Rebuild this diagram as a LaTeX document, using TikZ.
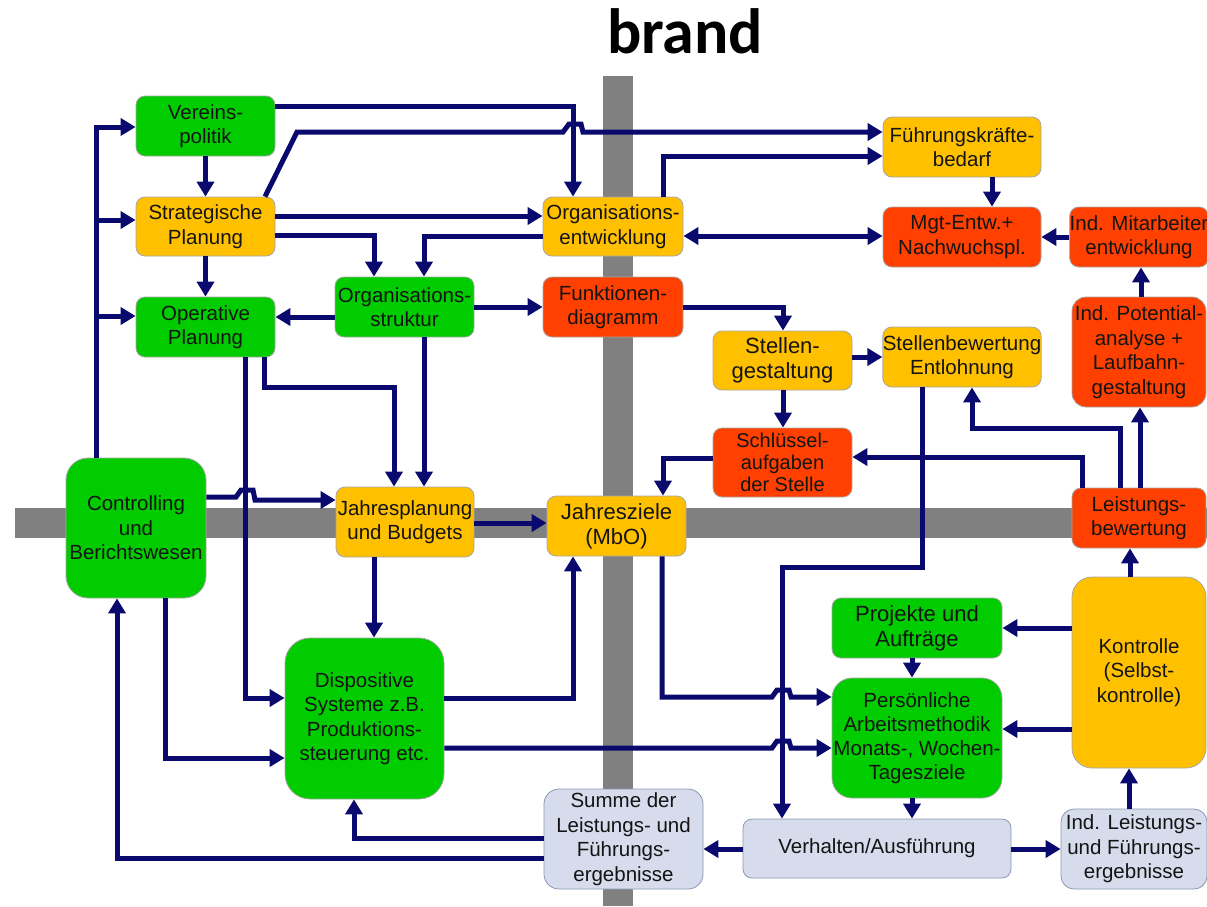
\documentclass[tikz,border=0pt]{standalone}
\usepackage{fontspec}
\setmainfont{Liberation Sans}
\newfontfamily\titlefont{Carlito}
\usetikzlibrary{arrows.meta,calc}

\definecolor{navy}{RGB}{10,10,110}
\definecolor{boxgreen}{RGB}{0,204,0}
\definecolor{boxorange}{RGB}{255,192,0}
\definecolor{boxred}{RGB}{255,64,0}
\definecolor{boxpale}{RGB}{214,220,236}
\definecolor{paleedge}{RGB}{140,150,178}
\definecolor{barcol}{RGB}{128,128,128}

\tikzset{
  >={Triangle[length=15pt,width=17pt]},
  box/.style={draw=black!35, line width=0.8pt, rounded corners=9pt, align=center,
    inner sep=0pt, text=black!92, font=\fontsize{20.5}{24.5}\selectfont},
  bigtext/.style={font=\fontsize{22}{25}\selectfont},
  greenbox/.style={box, fill=boxgreen},
  orangebox/.style={box, fill=boxorange},
  redbox/.style={box, fill=boxred},
  palebox/.style={box, fill=boxpale, draw=paleedge},
  conn/.style={draw=navy, line width=5pt, ->},
  sz/.style 2 args={minimum width=#1pt, minimum height=#2pt},
}

\begin{document}
\begin{tikzpicture}[x=1pt, y=-1pt]
\useasboundingbox (0,0) rectangle (1207,906);

% axis bars
\fill[barcol] (603,76) rectangle (633,906);
\fill[barcol] (15,508) rectangle (1207,538);

% title
\node[anchor=base, inner sep=0pt] (title) at (685,53)
  {\titlefont\bfseries\fontsize{64}{64}\selectfont brand};

% planning column
\node[greenbox, sz={139}{60}] (vp) at (205.5,126) {Vereins-\\politik};
\node[orangebox, sz={139}{59}] (sp) at (205.5,226.5) {Strategische\\Planung};
\node[greenbox, sz={139}{60}] (op) at (205.5,327) {Operative\\Planung};
\node[greenbox, sz={139}{60}] (os) at (404.5,307) {Organisations-\\struktur};
\node[orangebox, sz={140}{59}] (oe) at (613,226.5) {Organisations-\\entwicklung};
\node[redbox, sz={140}{60}] (fd) at (613,307) {Funktionen-\\diagramm};
\node[orangebox, bigtext, sz={139}{59}] (sg) at (782.5,360.5) {Stellen-\\gestaltung};
\node[orangebox, sz={158}{60}] (sb) at (962,357) {Stellenbewertung\\Entlohnung};
\node[redbox, sz={139}{69}, font=\fontsize{20}{21.7}\selectfont] (sa) at (782.5,462.5) {Schlüssel-\\aufgaben\\der Stelle};
\node[orangebox, sz={158}{60}] (fk) at (962,147) {Führungskräfte-\\bedarf};
\node[redbox, sz={158}{60}] (mg) at (962,237) {Mgt-Entw.+\\Nachwuchspl.};
\node[redbox, sz={134}{60}] (im) at (1139,237) {Ind. Mitarbeiter\\entwicklung};
\node[redbox, sz={134}{110}, rounded corners=14pt] (ip) at (1139,352) {Ind. Potential-\\analyse +\\Laufbahn-\\gestaltung};
\node[redbox, sz={134}{60}] (lb) at (1139,518) {Leistungs-\\bewertung};
\node[orangebox, sz={134}{191}, rounded corners=20pt] (ko) at (1139,672.5) {Kontrolle\\(Selbst-\\kontrolle)};

% operative row
\node[greenbox, sz={140}{140}, rounded corners=22pt] (cb) at (136,528) {Controlling\\und\\Berichtswesen};
\node[orangebox, sz={138}{70}] (jp) at (405,522) {Jahresplanung\\und Budgets};
\node[orangebox, bigtext, sz={139}{60}] (jz) at (616.5,526) {Jahresziele\\(MbO)};
\node[greenbox, sz={159}{161}, rounded corners=25pt] (ds) at (364.5,718.5) {Dispositive\\Systeme z.B.\\Produktions-\\steuerung etc.};
\node[greenbox, bigtext, sz={170}{60}] (pa) at (917,628) {Projekte und\\Aufträge};
\node[greenbox, sz={170}{120}, rounded corners=20pt, font=\fontsize{20.5}{24}\selectfont] (pm) at (917,738) {Persönliche\\Arbeitsmethodik\\Monats-, Wochen-\\Tagesziele};
\node[palebox, sz={268}{59}] (va) at (877,848.5) {Verhalten/Ausführung};
\node[palebox, sz={159}{100}, rounded corners=15pt] (su) at (623.5,839) {Summe der\\Leistungs- und\\Führungs-\\ergebnisse};
\node[palebox, sz={146}{80}, rounded corners=13pt] (il) at (1134,849) {Ind. Leistungs-\\und Führungs-\\ergebnisse};

% branch points of the feedback trunk
\coordinate (t1) at (96,220);
\coordinate (t2) at (96,316);

% feedback trunk from controlling
\draw[conn] (cb.north -| 96,0) |- (vp.west |- 0,127);
\draw[conn] (t1) -- (sp.west |- t1);
\draw[conn] (t2) -- (op.west |- t2);

% strategic layer
\draw[conn] (vp.south) -- (sp.north);
\draw[conn] (sp.south) -- (op.north);
\draw[conn] (vp.east |- 0,106) -| (oe.north -| 573,0);
\draw[conn] (sp.north -| 265,0) -- (297,132) -- (563,132) -- (569,124) -- (581,124) -- (583,132)
  -- (fk.west |- 0,132);
\draw[conn] (sp.east |- 0,216) -- (oe.west |- 0,216);
\draw[conn] (sp.east |- 0,235) -| (os.north -| 374,0);
\draw[conn] (oe.west |- 0,236) -| (os.north -| 424,0);
\draw[conn] (oe.north -| 663,0) |- (fk.west |- 0,156);
\draw[conn, <->] (oe.east |- 0,236) -- (mg.west |- 0,236);
\draw[conn] (fk.south -| 992,0) -- (mg.north -| 992,0);
\draw[conn] (im.west |- 0,237) -- (mg.east |- 0,237);
\draw[conn] (ip.north -| 1141,0) -- (im.south -| 1141,0);

% structure and positions
\draw[conn] (os.west |- 0,317) -- (op.east |- 0,317);
\draw[conn] (os.east |- 0,307) -- (fd.west |- 0,307);
\draw[conn] (fd.east |- 0,307) -| (sg.north -| 783,0);
\draw[conn] (sg.east |- 0,357) -- (sb.west |- 0,357);
\draw[conn] (sg.south -| 783,0) -- (sa.north -| 783,0);
\draw[conn] (sa.west |- 0,458) -| (jz.north -| 663,0);
\draw[conn] (lb.north -| 1082,0) |- (sa.east |- 0,457);
\draw[conn] (lb.north -| 1120,0) |- (972,428) -- (sb.south -| 972,0);
\draw[conn] (lb.north -| 1140,0) -- (ip.south -| 1140,0);

% control loop
\draw[conn] (ko.north -| 1130,0) -- (lb.south -| 1130,0);
\draw[conn] (ko.west |- 0,628) -- (pa.east |- 0,628);
\draw[conn] (ko.west |- 0,729) -- (pm.east |- 0,729);
\draw[conn] (il.north -| 1129,0) -- (ko.south -| 1129,0);
\draw[conn] (pa.south -| 912,0) -- (pm.north -| 912,0);
\draw[conn] (pm.south -| 912,0) -- (va.north -| 912,0);
\draw[conn] (va.west |- 0,849) -- (su.east |- 0,849);
\draw[conn] (va.east |- 0,849) -- (il.west |- 0,849);
\draw[conn] (su.west |- 0,838) -| (ds.south -| 354,0);
\draw[conn] (su.west |- 0,858) -| (cb.south -| 117,0);

% operative planning
\draw[conn] (cb.south -| 165,0) |- (ds.west |- 0,758);
\draw[conn] (op.south -| 245,0) |- (ds.west |- 0,698);
\draw[conn] (op.south -| 264,0) |- (394,387) -- (jp.north -| 394,0);
\draw[conn] (os.south -| 424,0) -- (jp.north -| 424,0);
\draw[conn] (cb.east |- 0,497) -- (236,497) -- (241,490) -- (253,490) -- (255,500)
  -- (jp.west |- 0,500);
\draw[conn] (jp.east |- 0,523) -- (jz.west |- 0,523);
\draw[conn] (jp.south -| 374,0) -- (ds.north -| 374,0);
\draw[conn] (ds.east |- 0,698) -| (jz.south -| 573,0);
\draw[conn] (jz.south -| 662,0) |- (772,697) -- (777,690) -- (789,690) -- (791,697)
  -- (pm.west |- 0,697);
\draw[conn] (ds.east |- 0,748) -- (772,748) -- (777,741) -- (789,741) -- (791,748)
  -- (pm.west |- 0,748);
\draw[conn] (sb.south -| 922,0) |- (782,567) -- (va.north -| 782,0);
\end{tikzpicture}
\end{document}
